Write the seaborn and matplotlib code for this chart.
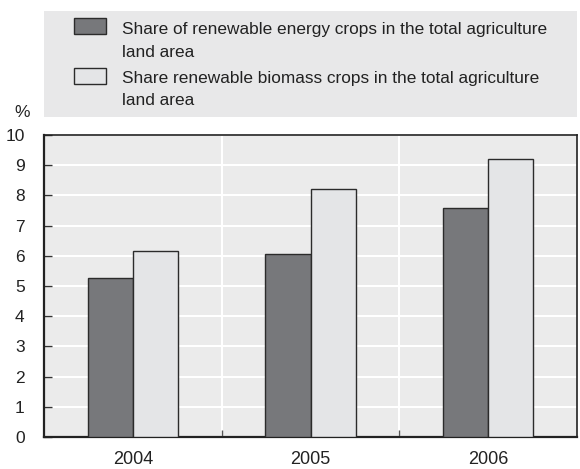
import matplotlib
matplotlib.use("Agg")
import matplotlib.pyplot as plt
import matplotlib.patches as mpatches
import seaborn as sns
import pandas as pd

years = ["2004", "2005", "2006"]
energy_crops = [5.25, 6.05, 7.57]
biomass_crops = [6.15, 8.2, 9.2]
series_names = ["energy", "biomass"]
legend_lines = [
    ["Share of renewable energy crops in the total agriculture", "land area"],
    ["Share renewable biomass crops in the total agriculture", "land area"],
]
y_ticks = list(range(0, 11))

df = pd.DataFrame({
    "year": years * 2,
    "value": energy_crops + biomass_crops,
    "series": [series_names[0]] * 3 + [series_names[1]] * 3,
})

sns.set_theme(style="white")
FONT = ["Liberation Sans", "DejaVu Sans"]
plt.rcParams["font.family"] = FONT

W, H = 580, 469
BG = "#ebebeb"
PANEL = "#e8e8e9"
DARK = "#77787b"
LIGHT = "#e4e5e7"
EDGE = "#2b2b2b"
TXT = "#222222"
palette = [DARK, LIGHT]

fig = plt.figure(figsize=(W / 100, H / 100), dpi=100)
ax = fig.add_axes([44 / W, 32 / H, 533 / W, 302 / H])
ax.set_facecolor(BG)

sns.barplot(data=df, x="year", y="value", hue="series",
            palette=palette, width=0.51, edgecolor=EDGE, linewidth=1.0,
            ax=ax, zorder=3, legend=False)

ax.set_ylim(0, 10)
ax.set_xlim(-0.5, 2.5)
ax.set_yticks(y_ticks)
ax.set_yticklabels([str(t) for t in y_ticks], fontsize=12.5, color=TXT)
ax.tick_params(axis="y", direction="in", length=6, width=1, color="#333333", left=True, pad=14)
ax.set_xticks([0, 1, 2])
ax.set_xticklabels(years, fontsize=13, color=TXT)
ax.tick_params(axis="x", length=0, pad=10)
ax.set_xticks([0.5, 1.5], minor=True)
ax.tick_params(axis="x", which="minor", direction="in", length=5, width=1, color="#555555", bottom=True)
ax.set_xlabel("")
ax.set_ylabel("")

ax.grid(True, axis="y", color="white", linewidth=1.5, zorder=0)
for xb in [0.5, 1.5]:
    ax.axvline(xb, color="white", linewidth=1.5, zorder=0)
ax.set_axisbelow(True)

for side in ["left", "right", "top", "bottom"]:
    ax.spines[side].set_visible(True)
    ax.spines[side].set_color("#222222")
    ax.spines[side].set_linewidth(1.2)
ax.spines["left"].set_linewidth(1.6)
ax.spines["bottom"].set_linewidth(1.6)

# legend panel above the plot
fig.patches.append(mpatches.Rectangle((44 / W, 1 - 117 / H), 533 / W, 106 / H,
                                      transform=fig.transFigure, facecolor=PANEL,
                                      edgecolor="none", zorder=0))
swatch_tops = [18, 68]
baselines = [[34, 57], [83, 105]]
for color, top, lines, bls in zip(palette, swatch_tops, legend_lines, baselines):
    fig.patches.append(mpatches.Rectangle((74 / W, 1 - (top + 16) / H), 32 / W, 16 / H,
                                          transform=fig.transFigure, facecolor=color,
                                          edgecolor=EDGE, linewidth=1.0, zorder=2))
    for line, bl in zip(lines, bls):
        fig.text(122 / W, 1 - bl / H, line, fontsize=12.4, color=TXT,
                 ha="left", va="baseline")

fig.text(14 / W, 1 - 117 / H, "%", fontsize=12.5, color=TXT, ha="left", va="baseline")

fig.savefig("out.png", dpi=100)
